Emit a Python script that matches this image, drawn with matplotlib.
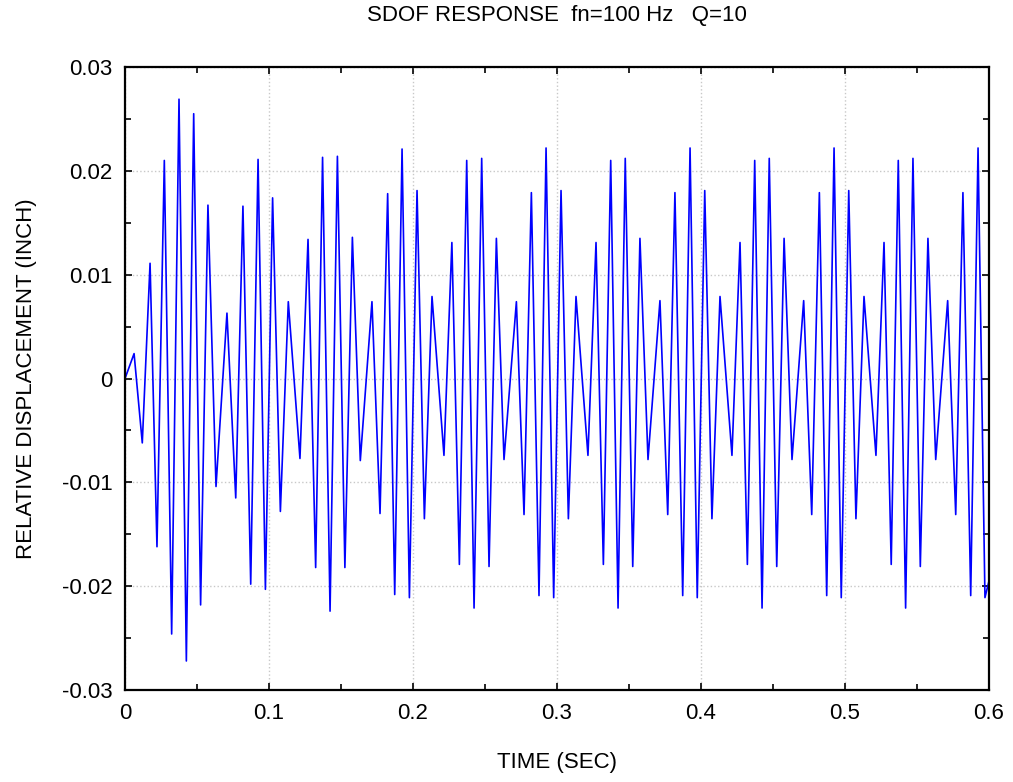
import matplotlib.pyplot as plt
from matplotlib.ticker import MultipleLocator

plt.rcParams['font.family'] = ['Liberation Sans', 'DejaVu Sans']

# time of each turning point of the response (sec)
t_sec = [0.0, 0.0063, 0.0120, 0.0174, 0.0222, 0.0273, 0.0324, 0.0375, 0.0426, 0.0477,
         0.0525, 0.0576, 0.0632, 0.0708, 0.0769, 0.0819, 0.0873, 0.0924, 0.0975, 0.1025,
         0.1079, 0.1134, 0.1215, 0.1271, 0.1324, 0.1372, 0.1424, 0.1475, 0.1527, 0.1579,
         0.1634, 0.1715, 0.1771, 0.1824, 0.1873, 0.1924, 0.1975, 0.2028, 0.2079, 0.2132,
         0.2215, 0.2270, 0.2322, 0.2373, 0.2424, 0.2477, 0.2528, 0.2579, 0.2632, 0.2718,
         0.2771, 0.2822, 0.2875, 0.2924, 0.2977, 0.3028, 0.3079, 0.3132, 0.3215, 0.3271,
         0.3322, 0.3373, 0.3424, 0.3474, 0.3526, 0.3576, 0.3632, 0.3715, 0.3769, 0.3819,
         0.3873, 0.3924, 0.3974, 0.4026, 0.4076, 0.4132, 0.4215, 0.4271, 0.4322, 0.4373,
         0.4424, 0.4474, 0.4526, 0.4577, 0.4632, 0.4713, 0.4769, 0.4822, 0.4873, 0.4924,
         0.4974, 0.5026, 0.5076, 0.5132, 0.5215, 0.5271, 0.5321, 0.5370, 0.5421, 0.5472,
         0.5523, 0.5576, 0.5630, 0.5713, 0.5769, 0.5819, 0.5873, 0.5924, 0.5972, 0.6]

# relative displacement (inch) at those points
disp = [0.0, 0.0024, -0.0062, 0.0111, -0.0162, 0.0210, -0.0246, 0.0269, -0.0272, 0.0255,
        -0.0218, 0.0167, -0.0104, 0.0063, -0.0115, 0.0166, -0.0198, 0.0211, -0.0203, 0.0174,
        -0.0128, 0.0074, -0.0077, 0.0134, -0.0182, 0.0213, -0.0224, 0.0214, -0.0182, 0.0136,
        -0.0079, 0.0074, -0.0130, 0.0178, -0.0208, 0.0221, -0.0211, 0.0181, -0.0135, 0.0079,
        -0.0074, 0.0131, -0.0179, 0.0210, -0.0221, 0.0212, -0.0181, 0.0135, -0.0078, 0.0074,
        -0.0131, 0.0179, -0.0209, 0.0222, -0.0211, 0.0181, -0.0135, 0.0079, -0.0074, 0.0131,
        -0.0179, 0.0210, -0.0221, 0.0212, -0.0181, 0.0135, -0.0078, 0.0075, -0.0131, 0.0179,
        -0.0209, 0.0222, -0.0211, 0.0181, -0.0135, 0.0079, -0.0074, 0.0131, -0.0179, 0.0210,
        -0.0221, 0.0212, -0.0181, 0.0135, -0.0078, 0.0075, -0.0131, 0.0179, -0.0209, 0.0222,
        -0.0211, 0.0181, -0.0135, 0.0079, -0.0074, 0.0131, -0.0179, 0.0210, -0.0221, 0.0212,
        -0.0181, 0.0135, -0.0078, 0.0075, -0.0131, 0.0179, -0.0209, 0.0222, -0.0211, -0.0195]

x_ticks = [0, 0.1, 0.2, 0.3, 0.4, 0.5, 0.6]
x_labels = ['0', '0.1', '0.2', '0.3', '0.4', '0.5', '0.6']
y_ticks = [-0.03, -0.02, -0.01, 0, 0.01, 0.02, 0.03]
y_labels = ['-0.03', '-0.02', '-0.01', '0', '0.01', '0.02', '0.03']

fig = plt.figure(figsize=(10.13, 7.82), dpi=100)
ax = fig.add_axes([0.1234, 0.1176, 0.8529, 0.7967])

ax.plot(t_sec, disp, '-', color='#0000ff', linewidth=1.2)

ax.set_xlim(0, 0.6)
ax.set_ylim(-0.03, 0.03)
ax.set_xticks(x_ticks)
ax.set_xticklabels(x_labels)
ax.set_yticks(y_ticks)
ax.set_yticklabels(y_labels)
ax.xaxis.set_minor_locator(MultipleLocator(0.05))
ax.yaxis.set_minor_locator(MultipleLocator(0.005))
ax.tick_params(which='both', direction='in', top=True, right=True, width=1.2)
ax.tick_params(which='major', length=5, labelsize=16, pad=9)
ax.tick_params(which='minor', length=4)

ax.grid(True, which='major', linestyle=':', color='#c8c8c8', linewidth=1.0)
for s in ax.spines.values():
    s.set_linewidth(1.6)

ax.set_title('SDOF RESPONSE  fn=100 Hz   Q=10', fontsize=16, pad=33)
ax.set_xlabel('TIME (SEC)', fontsize=16, labelpad=20.5)
ax.set_ylabel('RELATIVE DISPLACEMENT (INCH)', fontsize=16, labelpad=18)

fig.savefig('out.png', dpi=100)
